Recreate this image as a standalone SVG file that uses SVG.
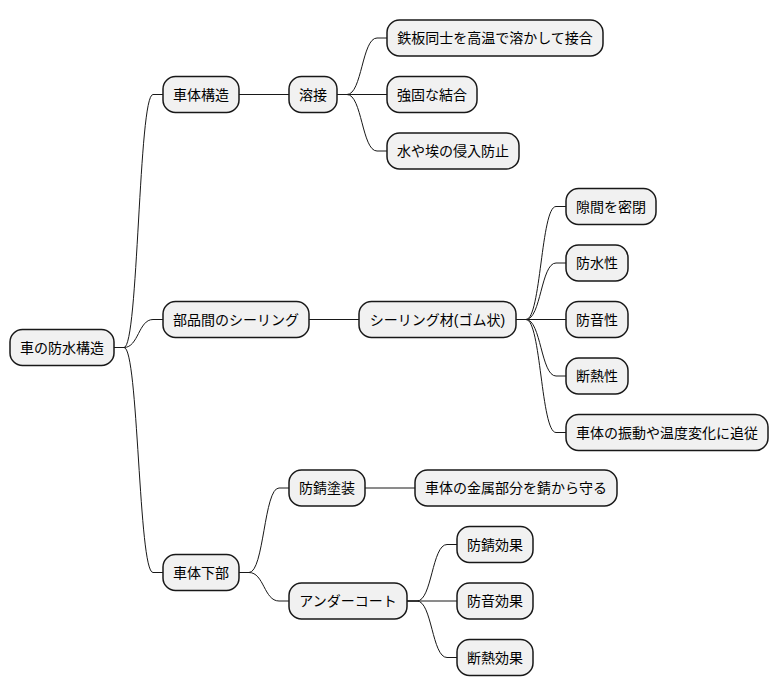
<svg xmlns="http://www.w3.org/2000/svg" width="779" height="696" viewBox="0 0 779 696">
<style>
.n rect{fill:#F1F1F1;stroke:#181818;stroke-width:1.5}
.n text{font-family:"Liberation Sans","Noto Sans CJK JP",sans-serif;font-size:14px;fill:#000;text-anchor:middle}
#edges path{fill:none;stroke:#181818;stroke-width:1}
</style>
<rect width="779" height="696" fill="#fff"/>
<g id="edges">
<!-- root -> level1 -->
<path d="M114,347.5 L124,347.5 C138.5,347.5 138.5,94.5 153,94.5 L163,94.5"/>
<path d="M114,347.5 L124,347.5 C138.5,347.5 138.5,319.5 153,319.5 L163,319.5"/>
<path d="M114,347.5 L124,347.5 C138.5,347.5 138.5,572.5 153,572.5 L163,572.5"/>
<!-- 車体構造 -> 溶接 -->
<path d="M239,94.5 L289,94.5"/>
<!-- 溶接 -> leaves -->
<path d="M337,94.5 L347,94.5 C362,94.5 362,38 377,38 L387,38"/>
<path d="M337,94.5 L387,94.5"/>
<path d="M337,94.5 L347,94.5 C362,94.5 362,151 377,151 L387,151"/>
<!-- 部品間 -> シーリング材 -->
<path d="M309,319.5 L359,319.5"/>
<!-- シーリング材 -> leaves -->
<path d="M516,319.5 L526,319.5 C541,319.5 541,206.5 556,206.5 L566,206.5"/>
<path d="M516,319.5 L526,319.5 C541,319.5 541,263 556,263 L566,263"/>
<path d="M516,319.5 L566,319.5"/>
<path d="M516,319.5 L526,319.5 C541,319.5 541,376 556,376 L566,376"/>
<path d="M516,319.5 L526,319.5 C541,319.5 541,432.5 556,432.5 L566,432.5"/>
<!-- 車体下部 -> children -->
<path d="M239,572.5 L249,572.5 C264,572.5 264,488 279,488 L289,488"/>
<path d="M239,572.5 L249,572.5 C264,572.5 264,601 279,601 L289,601"/>
<path d="M365,488 L415,488"/>
<path d="M407,601 L417,601 C432,601 432,544.5 447,544.5 L457,544.5"/>
<path d="M407,601 L457,601"/>
<path d="M407,601 L417,601 C432,601 432,657.5 447,657.5 L457,657.5"/>
</g>
<g id="root" class="n"><rect x="10" y="329.5" width="104" height="36" rx="12.5"/><text x="62" y="352.5">車の防水構造</text></g>
<g id="n_shatai" class="n"><rect x="163" y="76.5" width="76" height="36" rx="12.5"/><text x="201" y="99.5">車体構造</text></g>
<g id="n_sealing" class="n"><rect x="163" y="301.5" width="146" height="36" rx="12.5"/><text x="236" y="324.5">部品間のシーリング</text></g>
<g id="n_kabu" class="n"><rect x="163" y="554.5" width="76" height="36" rx="12.5"/><text x="201" y="577.5">車体下部</text></g>
<g id="n_yousetsu" class="n"><rect x="289" y="76.5" width="48" height="36" rx="12.5"/><text x="313" y="99.5">溶接</text></g>
<g id="n_teppan" class="n"><rect x="387" y="20" width="216" height="36" rx="12.5"/><text x="495" y="43">鉄板同士を高温で溶かして接合</text></g>
<g id="n_kyouko" class="n"><rect x="387" y="76.5" width="90" height="36" rx="12.5"/><text x="432" y="99.5">強固な結合</text></g>
<g id="n_shinnyu" class="n"><rect x="387" y="133" width="132" height="36" rx="12.5"/><text x="453" y="156">水や埃の侵入防止</text></g>
<g id="n_zai" class="n"><rect x="359" y="301.5" width="157" height="36" rx="12.5"/><text x="437.5" y="324.5">シーリング材(ゴム状)</text></g>
<g id="n_sukima" class="n"><rect x="566" y="188.5" width="90" height="36" rx="12.5"/><text x="611" y="211.5">隙間を密閉</text></g>
<g id="n_bousui" class="n"><rect x="566" y="245" width="62" height="36" rx="12.5"/><text x="597" y="268">防水性</text></g>
<g id="n_bouon" class="n"><rect x="566" y="301.5" width="62" height="36" rx="12.5"/><text x="597" y="324.5">防音性</text></g>
<g id="n_dannetsu" class="n"><rect x="566" y="358" width="62" height="36" rx="12.5"/><text x="597" y="381">断熱性</text></g>
<g id="n_tsuijuu" class="n"><rect x="566" y="414.5" width="202" height="36" rx="12.5"/><text x="667" y="437.5">車体の振動や温度変化に追従</text></g>
<g id="n_tosou" class="n"><rect x="289" y="470" width="76" height="36" rx="12.5"/><text x="327" y="493">防錆塗装</text></g>
<g id="n_kinzoku" class="n"><rect x="415" y="470" width="202" height="36" rx="12.5"/><text x="516" y="493">車体の金属部分を錆から守る</text></g>
<g id="n_under" class="n"><rect x="289" y="583" width="118" height="36" rx="12.5"/><text x="348" y="606">アンダーコート</text></g>
<g id="n_bousei" class="n"><rect x="457" y="526.5" width="76" height="36" rx="12.5"/><text x="495" y="549.5">防錆効果</text></g>
<g id="n_bouonk" class="n"><rect x="457" y="583" width="76" height="36" rx="12.5"/><text x="495" y="606">防音効果</text></g>
<g id="n_dannetsuk" class="n"><rect x="457" y="639.5" width="76" height="36" rx="12.5"/><text x="495" y="662.5">断熱効果</text></g>
</svg>
